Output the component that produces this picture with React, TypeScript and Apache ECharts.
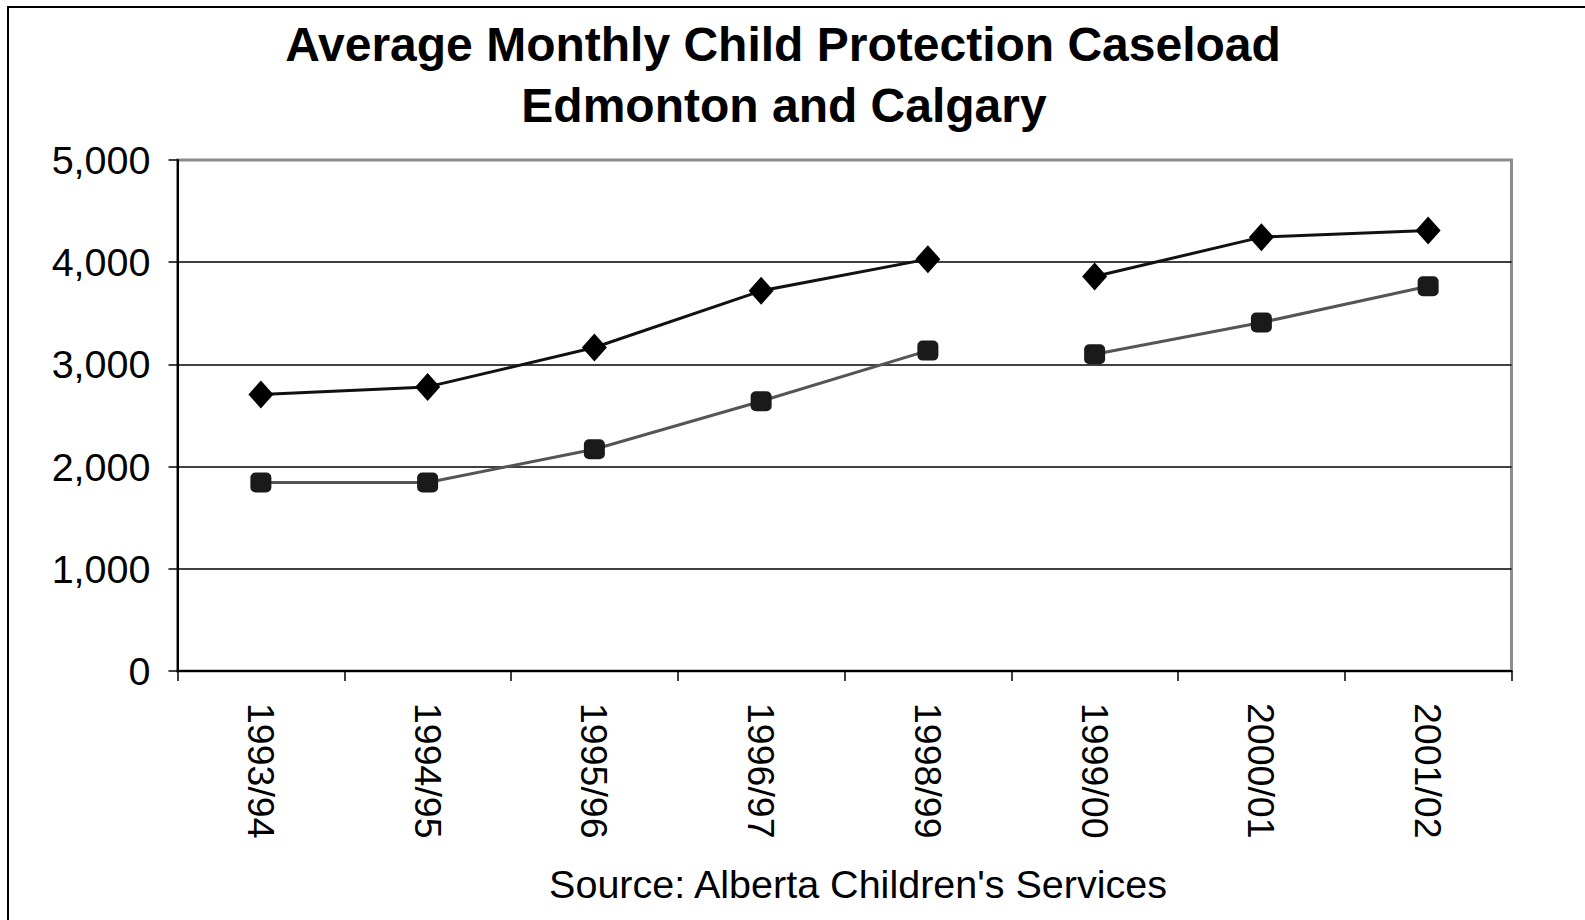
import React, { useEffect, useRef } from "react";
import * as echarts from "echarts";

const categories = ["1993/94", "1994/95", "1995/96", "1996/97", "1998/99", "1999/00", "2000/01", "2001/02"];
const diamondValues = [2705, 2780, 3165, 3720, 4030, 3860, 4245, 4310];
const squareValues = [1845, 1845, 2170, 2640, 3135, 3100, 3410, 3765];
// the line is broken between these two category indexes
const breakAfterIndex = 4;

const titleLines = ["Average Monthly Child Protection Caseload", "Edmonton and Calgary"];
const sourceText = "Source: Alberta Children's Services";

const FONT = "'Liberation Sans', Arial, Helvetica, sans-serif";

function segment(values: number[], first: boolean) {
  return values.map((v, i) => (first ? (i <= breakAfterIndex ? v : null) : i > breakAfterIndex ? v : null));
}

export default function App() {
  const ref = useRef<HTMLDivElement>(null);

  useEffect(() => {
    if (!ref.current) return;
    const chart = echarts.init(ref.current, undefined, { renderer: "svg" });

    const diamondStyle = {
      type: "line",
      symbol: "diamond",
      symbolSize: [25, 28],
      itemStyle: { color: "#000" },
      lineStyle: { color: "#111", width: 3 },
      connectNulls: false,
      z: 4,
    };
    const squareStyle = {
      type: "line",
      symbol: "roundRect",
      symbolSize: [21, 20],
      itemStyle: { color: "#1a1a1a" },
      lineStyle: { color: "#555", width: 3 },
      connectNulls: false,
      z: 3,
    };

    chart.setOption({
      animation: false,
      backgroundColor: "#fff",
      grid: {
        left: 177.5,
        top: 160,
        right: 73.5,
        bottom: 249,
        show: true,
        borderColor: "#8c8c8c",
        borderWidth: 3,
        backgroundColor: "transparent",
      },
      xAxis: {
        type: "category",
        data: categories,
        boundaryGap: true,
        axisLine: { show: true, lineStyle: { color: "#000", width: 2 } },
        axisTick: { show: true, length: 10, alignWithLabel: false, lineStyle: { color: "#000", width: 1.5 } },
        axisLabel: {
          rotate: -90,
          margin: 32,
          fontSize: 37.5,
          color: "#000",
          fontFamily: FONT,
          interval: 0,
        },
        splitLine: { show: false },
      },
      yAxis: {
        type: "value",
        min: 0,
        max: 5000,
        interval: 1000,
        axisLine: { show: true, lineStyle: { color: "#000", width: 2 } },
        axisTick: { show: true, length: 9, lineStyle: { color: "#000", width: 1.5 } },
        axisLabel: {
          margin: 27,
          fontSize: 39.5,
          color: "#000",
          fontFamily: FONT,
          formatter: (v: number) => v.toLocaleString("en-US"),
        },
        splitLine: {
          show: true,
          lineStyle: {
            color: ["#000", "#000", "#000", "#000", "#000", "rgba(0,0,0,0)"],
            width: 1.5,
          },
        },
      },
      series: [
        { ...diamondStyle, name: "Diamond series (a)", data: segment(diamondValues, true) },
        { ...diamondStyle, name: "Diamond series (b)", data: segment(diamondValues, false) },
        { ...squareStyle, name: "Square series (a)", data: segment(squareValues, true) },
        { ...squareStyle, name: "Square series (b)", data: segment(squareValues, false) },
      ],
      graphic: [
        {
          type: "rect",
          shape: { x: 8, y: 7, width: 1800, height: 1200 },
          style: { fill: "none", stroke: "#000", lineWidth: 2 },
          silent: true,
          z: 0,
        },
        {
          type: "text",
          x: 783,
          y: 44.5,
          style: {
            text: titleLines[0],
            fontSize: 48,
            fontWeight: "bold",
            fontFamily: FONT,
            fill: "#000",
            textAlign: "center",
            textVerticalAlign: "middle",
          },
        },
        {
          type: "text",
          x: 784,
          y: 105,
          style: {
            text: titleLines[1],
            fontSize: 48,
            fontWeight: "bold",
            fontFamily: FONT,
            fill: "#000",
            textAlign: "center",
            textVerticalAlign: "middle",
          },
        },
        {
          type: "text",
          x: 858,
          y: 883.5,
          style: {
            text: sourceText,
            fontSize: 39.5,
            fontFamily: FONT,
            fill: "#000",
            textAlign: "center",
            textVerticalAlign: "middle",
          },
        },
      ],
    });

    return () => chart.dispose();
  }, []);

  return (
    <div
      ref={ref}
      style={{ position: "fixed", left: 0, top: 0, width: 1585, height: 920, background: "#fff" }}
    />
  );
}
